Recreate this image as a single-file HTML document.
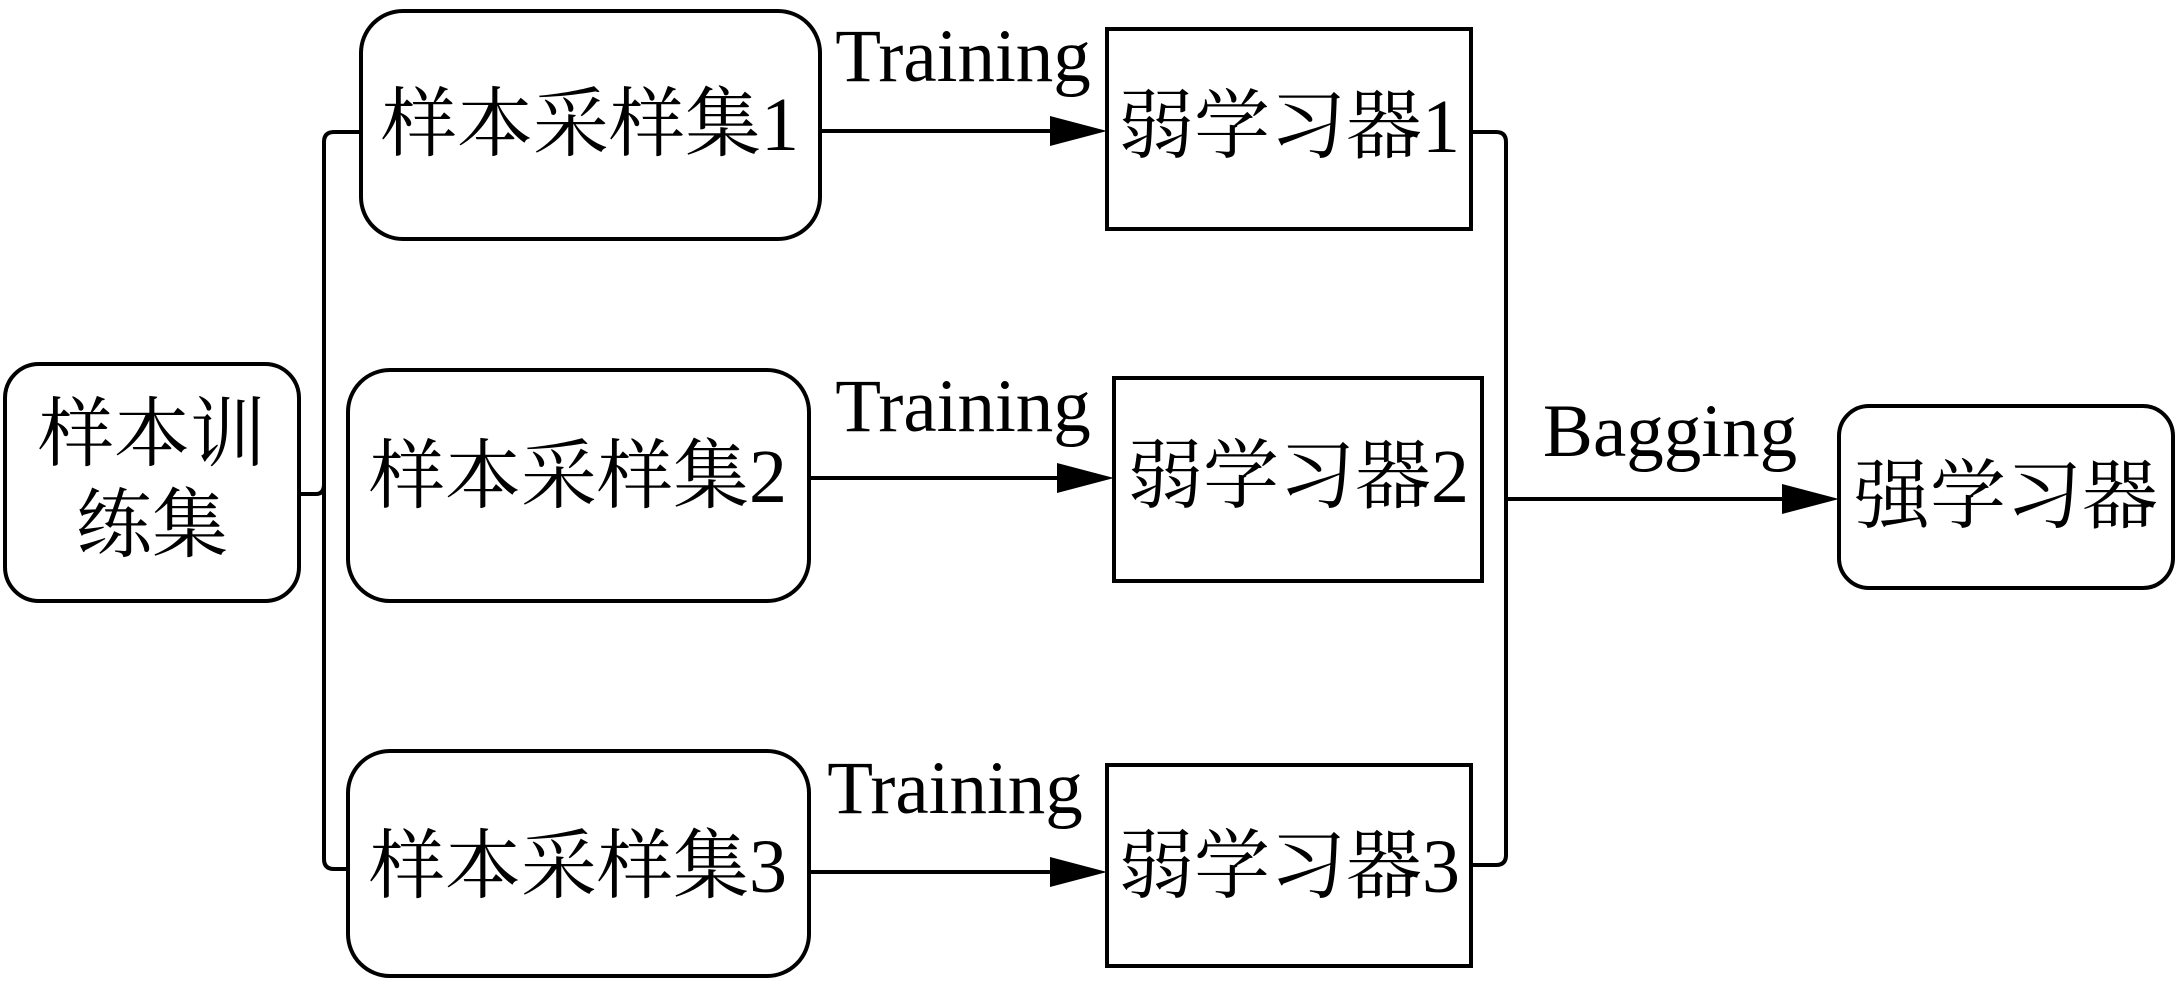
<!DOCTYPE html>
<html><head><meta charset="utf-8"><style>
html,body{margin:0;padding:0;background:#fff;}
svg text{font-family:"Liberation Serif","Noto Serif CJK SC",serif;fill:#000;}
</style></head><body>
<svg width="2180" height="982" viewBox="0 0 2180 982" xmlns="http://www.w3.org/2000/svg">
<defs><marker id="a" markerWidth="10" markerHeight="10" refX="10" refY="5" orient="auto" markerUnits="userSpaceOnUse" viewBox="0 0 10 10"><path d="M0,0 L10,5 L0,10 z" fill="#000"/></marker></defs>
<g fill="none" stroke="#000" stroke-width="4">
<rect x="5" y="364" width="294" height="237" rx="34"/>
<rect x="361" y="11" width="459" height="228" rx="42"/>
<rect x="348" y="370" width="461" height="231" rx="42"/>
<rect x="348" y="751" width="461" height="225" rx="42"/>
<rect x="1107" y="29" width="364" height="200"/>
<rect x="1114" y="378" width="368" height="203"/>
<rect x="1107" y="765" width="364" height="201"/>
<rect x="1839" y="406" width="334" height="182" rx="30"/>
<path d="M299,494 H316 Q324,494 324,484 V142 Q324,132 334,132 H361"/>
<path d="M324,484 V859 Q324,869 334,869 H348"/>
<path d="M1471,132 H1496 Q1506,132 1506,142 V855 Q1506,865 1496,865 H1471"/>
<path d="M1506,499 H1790"/>
<path d="M820,131 H1055"/>
<path d="M809,478 H1063"/>
<path d="M809,872 H1055"/>
</g>
<g fill="#000">
<path d="M1050,116 L1107,131 L1050,146 z"/>
<path d="M1057,463 L1114,478 L1057,493 z"/>
<path d="M1050,857 L1107,872 L1050,887 z"/>
<path d="M1782,484 L1839,499 L1782,514 z"/>
</g>
<g font-size="75">
<text x="963" y="81" text-anchor="middle">Training</text>
<text x="963" y="431" text-anchor="middle">Training</text>
<text x="955" y="813" text-anchor="middle">Training</text>
<text x="1670" y="456" text-anchor="middle">Bagging</text>
</g>
<g font-size="76">
<text x="152" y="460" text-anchor="middle">样本训</text>
<text x="152" y="551" text-anchor="middle">练集</text>
<text x="590" y="150" text-anchor="middle">样本采样集1</text>
<text x="578" y="502" text-anchor="middle">样本采样集2</text>
<text x="578" y="892" text-anchor="middle">样本采样集3</text>
<text x="1289" y="152" text-anchor="middle">弱学习器1</text>
<text x="1298" y="502" text-anchor="middle">弱学习器2</text>
<text x="1289" y="892" text-anchor="middle">弱学习器3</text>
<text x="2006" y="522" text-anchor="middle">强学习器</text>
</g>
</svg>
</body></html>
